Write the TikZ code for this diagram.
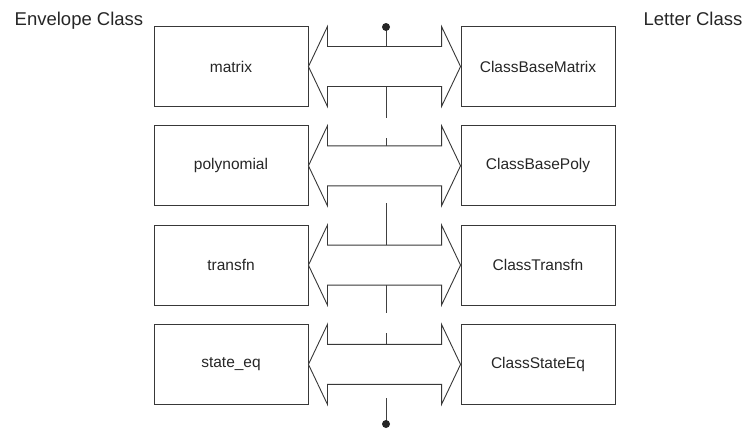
\documentclass[tikz,border=0pt]{standalone}
\usepackage{fontspec}
\setmainfont{Liberation Sans}
\usetikzlibrary{calc}
\begin{document}
\begin{tikzpicture}[x=1pt,y=-1pt,
  ink/.style={draw=black!78, line width=0.9pt},
  classbox/.style={ink, minimum width=154pt, minimum height=80pt, inner sep=0pt,
    font=\fontsize{15.5}{18}\selectfont, text=black!85},
  title/.style={font=\fontsize{18.5}{21}\selectfont, text=black!85, anchor=base},
  pivot/.style={circle, fill=black!85, minimum size=8pt, inner sep=0pt},
  spine/.style={draw=black!75, line width=0.9pt, dash pattern=on 45pt off 20pt, dash phase=19pt},
]
\useasboundingbox (0,0) rectangle (750,431);

% column headings
\node[title] (envtitle) at (79,25) {Envelope Class};
\node[title] (lettitle) at (693,25) {Letter Class};

% end points of the central spine
\coordinate (topend) at (386,27);
\coordinate (botend) at (386,424);
\draw[spine] (topend) -- (botend);

% envelope / letter pairs joined by double-headed block arrows
\foreach \i/\l/\r in {0/matrix/ClassBaseMatrix, 1/polynomial/ClassBasePoly,
                      2/transfn/ClassTransfn, 3/state\_eq/ClassStateEq} {
  \pgfmathsetmacro{\cy}{66.5+99.3*\i}
  \node[classbox] (env\i) at (231,\cy) {\l};
  \node[classbox] (let\i) at (538,\cy) {\r};
  \draw[ink, fill=white]
    (env\i.east) -- ++(19,-40) -- ++(0,20)
    -- ($(let\i.west)+(-19,-20)$) -- ++(0,-20)
    -- (let\i.west) -- ++(-19,40) -- ++(0,-20)
    -- ($(env\i.east)+(19,20)$) -- ++(0,20) -- cycle;
}

% pivot dots
\node[pivot] (topdot) at (topend) {};
\node[pivot] (botdot) at (botend) {};
\end{tikzpicture}
\end{document}
